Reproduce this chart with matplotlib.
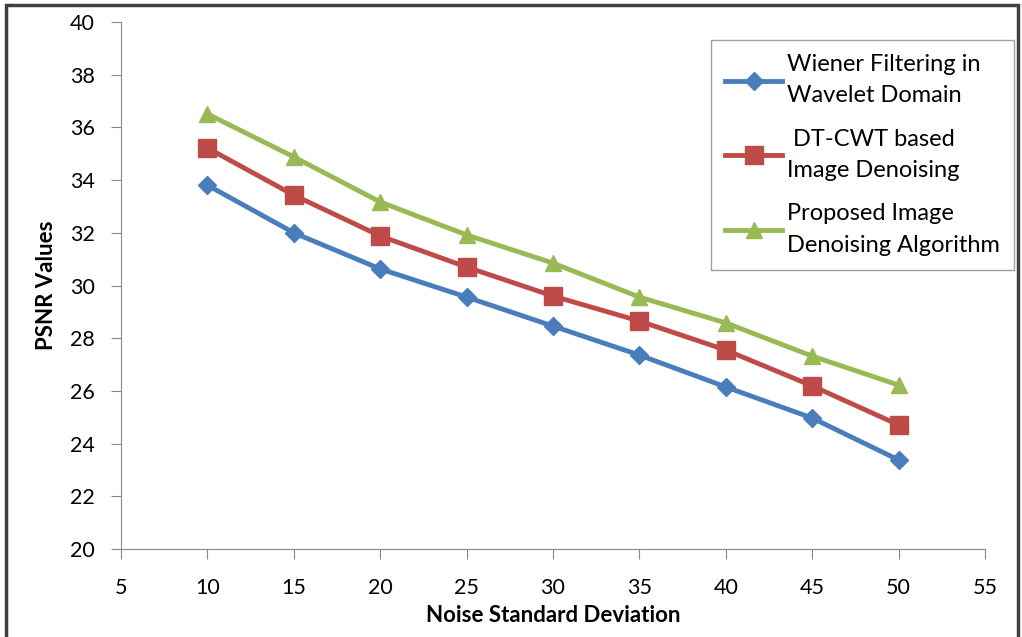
import matplotlib
matplotlib.use("Agg")
import matplotlib.pyplot as plt
from matplotlib.patches import Rectangle

plt.rcParams['font.family'] = ['Lato', 'DejaVu Sans']

noise_sd = [10, 15, 20, 25, 30, 35, 40, 45, 50]
wiener = [33.81, 32.00, 30.63, 29.56, 28.46, 27.36, 26.15, 24.97, 23.38]
dtcwt = [35.22, 33.43, 31.88, 30.70, 29.60, 28.65, 27.55, 26.19, 24.71]
proposed = [36.51, 34.88, 33.17, 31.92, 30.85, 29.56, 28.58, 27.32, 26.22]

labels = ["Wiener Filtering in\nWavelet Domain",
          " DT-CWT based\nImage Denoising",
          "Proposed Image\nDenoising Algorithm"]
colors = ["#4a7ebb", "#be4b48", "#98b954"]
markers = ["D", "s", "^"]
msizes = [9, 13, 12]

x_ticks = [5, 10, 15, 20, 25, 30, 35, 40, 45, 50, 55]
y_ticks = [20, 22, 24, 26, 28, 30, 32, 34, 36, 38, 40]

fig = plt.figure(figsize=(10.22, 6.37), dpi=100)
ax = fig.add_axes([121 / 1022, 1 - 549 / 637, (985 - 121) / 1022, (549 - 22) / 637])

for ys, lab, c, m, ms in zip([wiener, dtcwt, proposed], labels, colors, markers, msizes):
    ax.plot(noise_sd, ys, color=c, marker=m, markersize=ms, linewidth=3.5, label=lab)

ax.set_xlim(5, 55)
ax.set_ylim(20, 40)
ax.set_xticks(x_ticks)
ax.set_yticks(y_ticks)
ax.tick_params(axis='both', direction='out', length=7, color='#888888', labelsize=15.5)
ax.tick_params(axis='x', pad=14)
ax.tick_params(axis='y', pad=12)
for s in ['top', 'right']:
    ax.spines[s].set_visible(False)
for s in ['left', 'bottom']:
    ax.spines[s].set_color('#888888')

ax.set_xlabel("Noise Standard Deviation", fontsize=16, fontweight='bold', labelpad=5)
ax.set_ylabel("PSNR Values", fontsize=16, fontweight='bold', labelpad=9)

leg = ax.legend(loc='upper left', bbox_to_anchor=((711 - 121) / 864, (549 - 40) / 527),
                fontsize=17, frameon=True, fancybox=False, edgecolor='#888888',
                handlelength=2.4, labelspacing=0.95, borderpad=0.6, handletextpad=0.2,
                borderaxespad=0)
for t in leg.get_texts():
    t.set_linespacing(1.6)
leg.get_frame().set_linewidth(1.0)

fig.patches.append(Rectangle((6 / 1022, -0.01), (1018 - 6) / 1022, 1 - 5 / 637 + 0.01,
                             transform=fig.transFigure, fill=False,
                             edgecolor='#404040', linewidth=2.5))

fig.savefig("out.png", dpi=100)
